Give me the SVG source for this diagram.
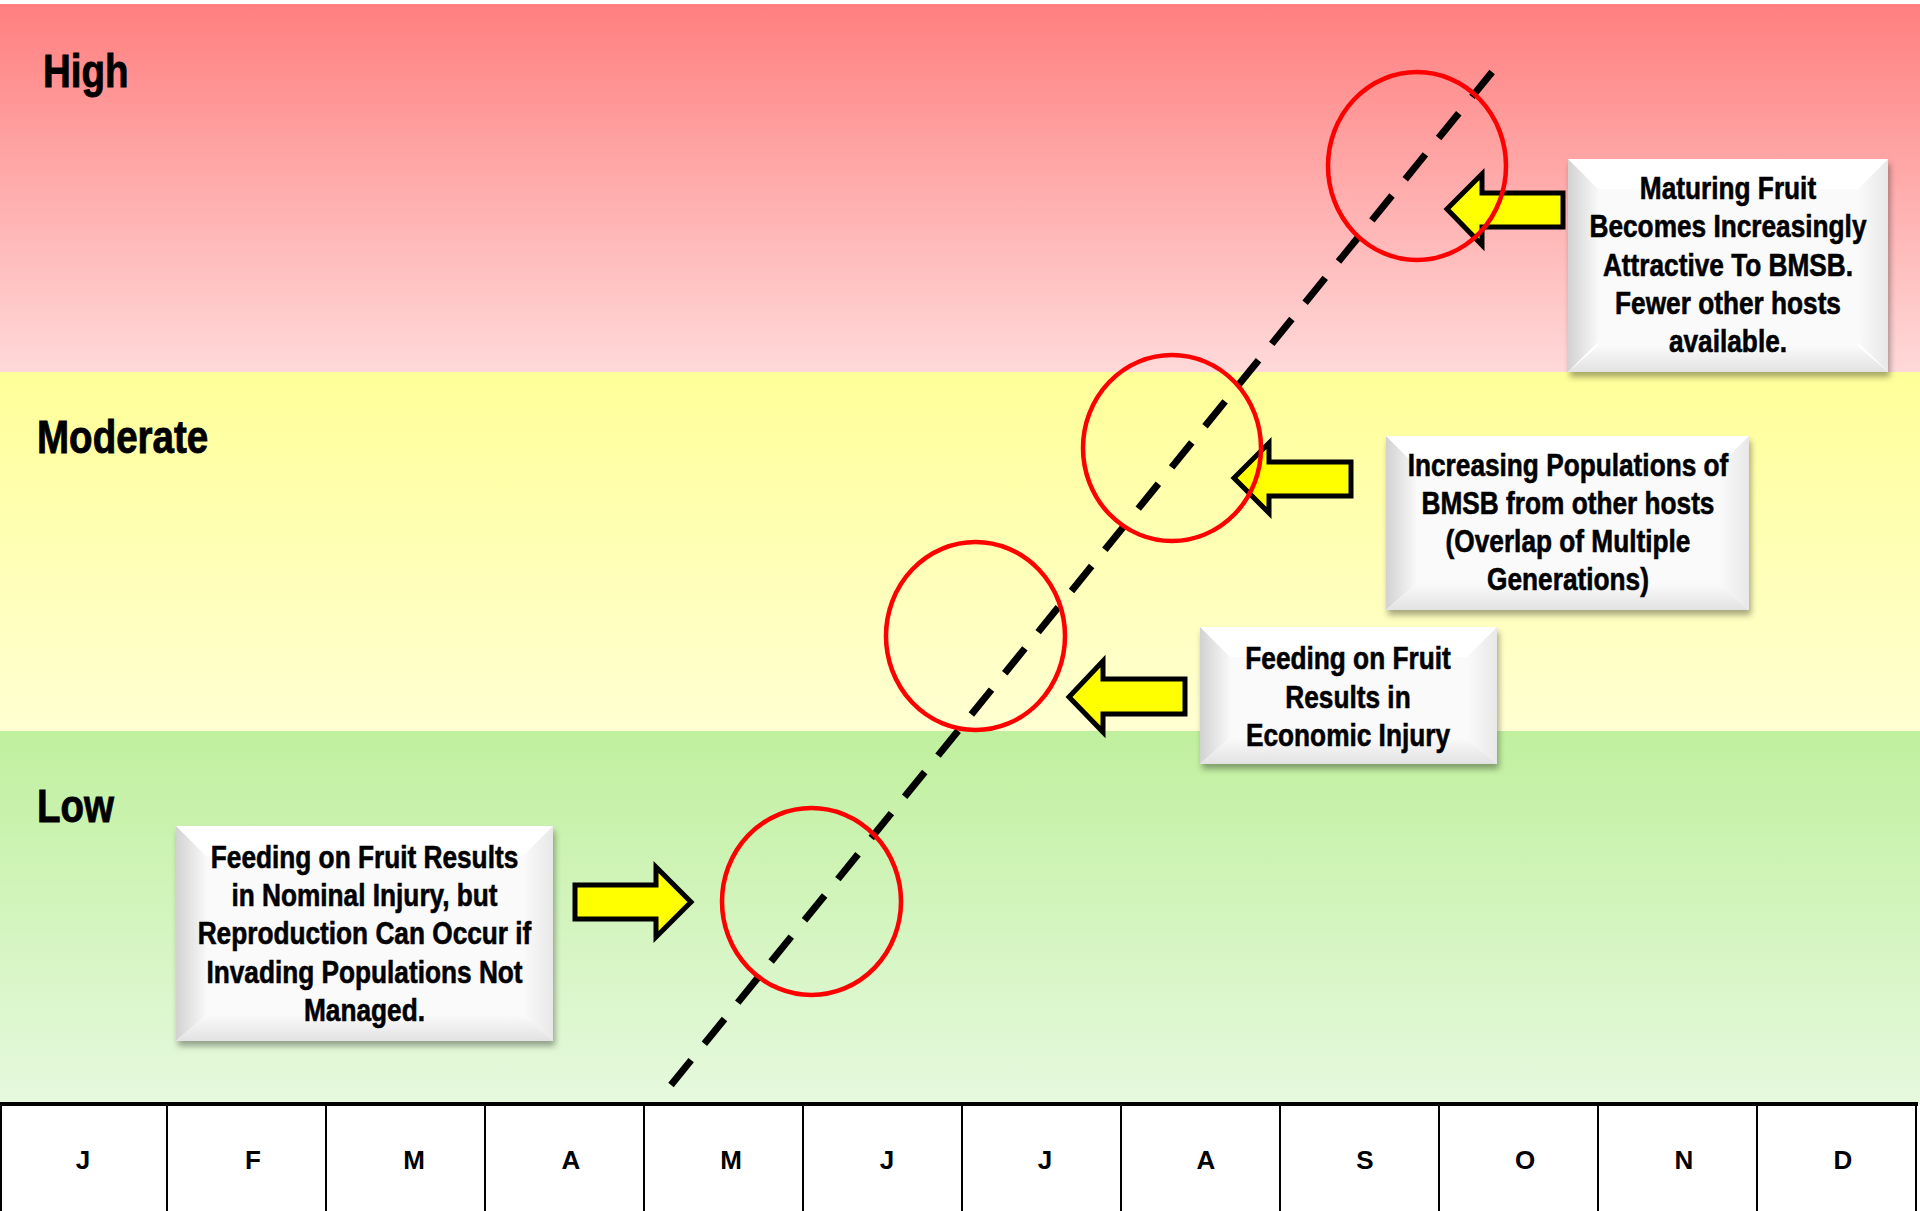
<svg xmlns="http://www.w3.org/2000/svg" width="1920" height="1211" viewBox="0 0 1920 1211">
<defs>
<linearGradient id="gHigh" x1="0" y1="0" x2="0" y2="1"><stop offset="0" stop-color="#FF7F7F"/><stop offset="1" stop-color="#FFD9D9"/></linearGradient>
<linearGradient id="gMod" x1="0" y1="0" x2="0" y2="1"><stop offset="0" stop-color="#FFFF99"/><stop offset="1" stop-color="#FFFFD2"/></linearGradient>
<linearGradient id="gLow" x1="0" y1="0" x2="0" y2="1"><stop offset="0" stop-color="#C0F09E"/><stop offset="1" stop-color="#E6F9DE"/></linearGradient>
<linearGradient id="bvL" x1="0" y1="0" x2="1" y2="0"><stop offset="0" stop-color="#D2D2D2"/><stop offset="1" stop-color="#F8F8F8"/></linearGradient>
<linearGradient id="bvR" x1="0" y1="0" x2="1" y2="0"><stop offset="0" stop-color="#FAFAFA"/><stop offset="1" stop-color="#E8E8E8"/></linearGradient>
<linearGradient id="bvB" x1="0" y1="0" x2="0" y2="1"><stop offset="0" stop-color="#FAFAFA"/><stop offset="1" stop-color="#E2E2E2"/></linearGradient>
<filter id="shadow" x="-10%" y="-10%" width="125%" height="130%"><feDropShadow dx="2" dy="5" stdDeviation="3" flood-color="#000" flood-opacity="0.35"/></filter>
</defs>
<style>
.lbl{font-family:"Liberation Sans",Arial,sans-serif;font-weight:bold;font-size:47px;fill:#000;stroke:#000;stroke-width:0.9}
.bt{font-family:"Liberation Sans",Arial,sans-serif;font-weight:bold;font-size:32px;fill:#000;stroke:#000;stroke-width:0.6;text-anchor:middle}
.mo{font-family:"Liberation Sans",Arial,sans-serif;font-weight:bold;font-size:26px;fill:#000;text-anchor:middle}
.ring{fill:none;stroke:#FF0000;stroke-width:4.5}
.arr{fill:#FFFF00;stroke:#000;stroke-width:5;stroke-linejoin:miter}
.grid{stroke:#000;stroke-width:2}
</style>
<rect x="0" y="0" width="1920" height="1211" fill="#FFFFFF"/>
<g id="bands">
<rect x="0" y="4" width="1920" height="368" fill="url(#gHigh)"/>
<rect x="0" y="372" width="1920" height="359" fill="url(#gMod)"/>
<rect x="0" y="731" width="1920" height="373" fill="url(#gLow)"/>
<g transform="translate(43,0) scale(0.82,1)"><text class="lbl" x="0" y="87">High</text></g>
<g transform="translate(37,0) scale(0.82,1)"><text class="lbl" x="0" y="453">Moderate</text></g>
<g transform="translate(37,0) scale(0.82,1)"><text class="lbl" x="0" y="822">Low</text></g>
</g>
<g id="months">
<rect x="1" y="1104" width="1915" height="120" fill="#FFFFFF"/>
<line x1="0" y1="1104" x2="1918" y2="1104" stroke="#000" stroke-width="4"/>
<line class="grid" x1="1" y1="1104" x2="1" y2="1211"/>
<line class="grid" x1="167" y1="1104" x2="167" y2="1211"/>
<line class="grid" x1="326" y1="1104" x2="326" y2="1211"/>
<line class="grid" x1="485" y1="1104" x2="485" y2="1211"/>
<line class="grid" x1="644" y1="1104" x2="644" y2="1211"/>
<line class="grid" x1="803" y1="1104" x2="803" y2="1211"/>
<line class="grid" x1="962" y1="1104" x2="962" y2="1211"/>
<line class="grid" x1="1121" y1="1104" x2="1121" y2="1211"/>
<line class="grid" x1="1280" y1="1104" x2="1280" y2="1211"/>
<line class="grid" x1="1439" y1="1104" x2="1439" y2="1211"/>
<line class="grid" x1="1598" y1="1104" x2="1598" y2="1211"/>
<line class="grid" x1="1757" y1="1104" x2="1757" y2="1211"/>
<line class="grid" x1="1916" y1="1104" x2="1916" y2="1211"/>
<text class="mo" x="83" y="1169">J</text>
<text class="mo" x="253" y="1169">F</text>
<text class="mo" x="414" y="1169">M</text>
<text class="mo" x="571" y="1169">A</text>
<text class="mo" x="731" y="1169">M</text>
<text class="mo" x="887" y="1169">J</text>
<text class="mo" x="1045" y="1169">J</text>
<text class="mo" x="1206" y="1169">A</text>
<text class="mo" x="1365" y="1169">S</text>
<text class="mo" x="1525" y="1169">O</text>
<text class="mo" x="1684" y="1169">N</text>
<text class="mo" x="1843" y="1169">D</text>
</g>
<g id="connectors">
<line x1="671" y1="1085" x2="1497" y2="66" stroke="#000" stroke-width="7" stroke-dasharray="32 21"/>
<polygon class="arr" points="1447,209 1482,174 1482,193 1563,193 1563,227 1482,227 1482,245"/>
<polygon class="arr" points="1234,478 1269,443 1269,462 1351,462 1351,496 1269,496 1269,513"/>
<polygon class="arr" points="1069,697 1103,661 1103,679 1185,679 1185,714 1103,714 1103,732"/>
<polygon class="arr" points="691,902 656,867 656,885 575,885 575,919 656,919 656,937"/>
</g>
<g id="circle-high"><ellipse class="ring" cx="1417" cy="166" rx="89" ry="94"/></g>
<g id="circle-mod2"><ellipse class="ring" cx="1172" cy="448" rx="89" ry="93"/></g>
<g id="circle-mod1"><ellipse class="ring" cx="975.5" cy="636" rx="89.5" ry="94"/></g>
<g id="circle-low"><ellipse class="ring" cx="811.5" cy="901.5" rx="89.5" ry="93.5"/></g>
<g id="box-maturing">
<g filter="url(#shadow)"><rect x="1568" y="159" width="320" height="213" fill="#FFFFFF"/></g>
<polygon points="1568,159 1598,189 1598,342 1568,372" fill="url(#bvL)"/>
<polygon points="1888,159 1858,189 1858,342 1888,372" fill="url(#bvR)"/>
<polygon points="1568,372 1598,346 1858,346 1888,372" fill="url(#bvB)"/>
<rect x="1598" y="189" width="260" height="157" fill="#FAFAFA"/>
<g transform="translate(1728,0) scale(0.82,1)">
<text class="bt" x="0" y="199">Maturing Fruit</text>
<text class="bt" x="0" y="237">Becomes Increasingly</text>
<text class="bt" x="0" y="276">Attractive To BMSB.</text>
<text class="bt" x="0" y="314">Fewer other hosts</text>
<text class="bt" x="0" y="352">available.</text>
</g>
</g>
<g id="box-increasing">
<g filter="url(#shadow)"><rect x="1386" y="436" width="363" height="174" fill="#FFFFFF"/></g>
<polygon points="1386,436 1416,466 1416,584 1386,610" fill="url(#bvL)"/>
<polygon points="1749,436 1719,466 1719,584 1749,610" fill="url(#bvR)"/>
<polygon points="1386,610 1416,584 1719,584 1749,610" fill="url(#bvB)"/>
<rect x="1416" y="466" width="303" height="118" fill="#FAFAFA"/>
<g transform="translate(1568,0) scale(0.82,1)">
<text class="bt" x="0" y="476">Increasing Populations of</text>
<text class="bt" x="0" y="514">BMSB from other hosts</text>
<text class="bt" x="0" y="552">(Overlap of Multiple</text>
<text class="bt" x="0" y="590">Generations)</text>
</g>
</g>
<g id="box-economic">
<g filter="url(#shadow)"><rect x="1200" y="627" width="297" height="137" fill="#FFFFFF"/></g>
<polygon points="1200,627 1230,657 1230,738 1200,764" fill="url(#bvL)"/>
<polygon points="1497,627 1467,657 1467,738 1497,764" fill="url(#bvR)"/>
<polygon points="1200,764 1230,738 1467,738 1497,764" fill="url(#bvB)"/>
<rect x="1230" y="657" width="237" height="81" fill="#FAFAFA"/>
<g transform="translate(1348,0) scale(0.82,1)">
<text class="bt" x="0" y="669">Feeding on Fruit</text>
<text class="bt" x="0" y="708">Results in</text>
<text class="bt" x="0" y="746">Economic Injury</text>
</g>
</g>
<g id="box-nominal">
<g filter="url(#shadow)"><rect x="176" y="826" width="377" height="215" fill="#FFFFFF"/></g>
<polygon points="176,826 206,856 206,1015 176,1041" fill="url(#bvL)"/>
<polygon points="553,826 523,856 523,1015 553,1041" fill="url(#bvR)"/>
<polygon points="176,1041 206,1015 523,1015 553,1041" fill="url(#bvB)"/>
<rect x="206" y="856" width="317" height="159" fill="#FAFAFA"/>
<g transform="translate(364.5,0) scale(0.82,1)">
<text class="bt" x="0" y="868">Feeding on Fruit Results</text>
<text class="bt" x="0" y="906">in Nominal Injury, but</text>
<text class="bt" x="0" y="944">Reproduction Can Occur if</text>
<text class="bt" x="0" y="983">Invading Populations Not</text>
<text class="bt" x="0" y="1021">Managed.</text>
</g>
</g>
</svg>
